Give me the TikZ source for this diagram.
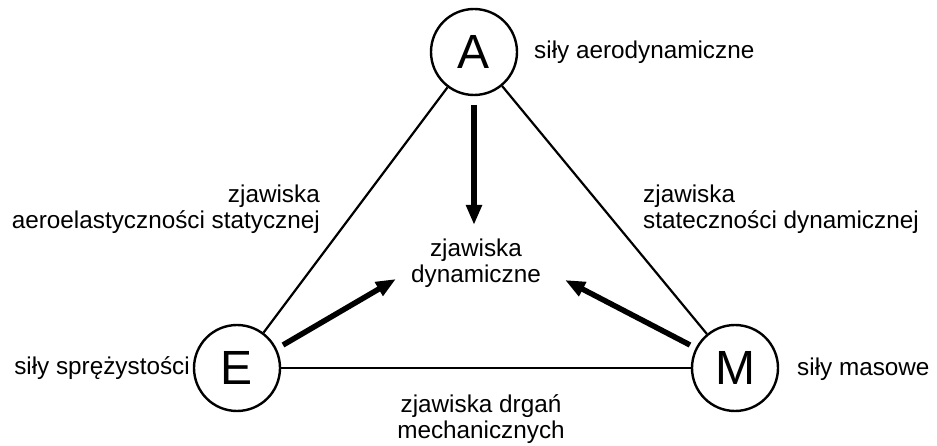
\documentclass[tikz,border=0pt]{standalone}
\usepackage{fontspec}
\setmainfont{Liberation Sans}
\usetikzlibrary{arrows.meta}
\begin{document}
\begin{tikzpicture}[x=1pt,y=-1pt,
  letter/.style={circle,draw,line width=2.4pt,minimum size=86pt,inner sep=0pt,font=\fontsize{48}{48}\selectfont},
  lbl/.style={font=\fontsize{24.3}{26}\selectfont,inner sep=0pt},
  edge/.style={line width=2.2pt},
  bigarrow/.style={line width=5.5pt,-{Triangle[width=15pt,length=20pt]}}]
\useasboundingbox[fill=white] (0,0) rectangle (937,446);
\node[letter] (A) at (474,52) {A};
\node[letter] (E) at (237,368) {E};
\node[letter] (M) at (735,368) {M};
\draw[edge] (A) -- (E);
\draw[edge] (A) -- (M);
\draw[edge] (E) -- (M);
\coordinate (a0) at (474,105);
\coordinate (a1) at (474,225);
\coordinate (e0) at (283,345);
\coordinate (e1) at (396,279);
\coordinate (m0) at (690,345);
\coordinate (m1) at (565,280);
\draw[bigarrow] (a0) -- (a1);
\draw[bigarrow] (e0) -- (e1);
\draw[bigarrow] (m0) -- (m1);
\node[lbl,anchor=base west] (fa) at (534,59) {siły aerodynamiczne};
\node[lbl,align=right,anchor=base east] (zs) at (320,229) {zjawiska\\aeroelastyczności statycznej};
\node[lbl,align=left,anchor=base west] (zd) at (643,229) {zjawiska\\stateczności dynamicznej};
\node[lbl,align=center,anchor=base] (D) at (476,283) {zjawiska\\dynamiczne};
\node[lbl,anchor=base east] (fs) at (190,374) {siły sprężystości};
\node[lbl,anchor=base west] (fm) at (797,375) {siły masowe};
\node[lbl,align=center,anchor=base] (zm) at (481,438) {zjawiska drgań\\mechanicznych};
\end{tikzpicture}
\end{document}
